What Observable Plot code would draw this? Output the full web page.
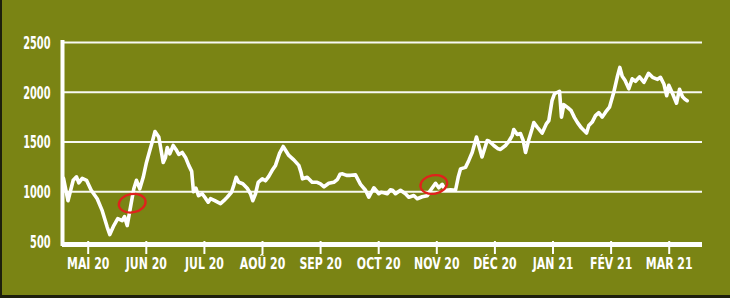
<!DOCTYPE html>
<html>
<head>
<meta charset="utf-8">
<script src="https://cdn.jsdelivr.net/npm/d3@7"></script>
<script src="https://cdn.jsdelivr.net/npm/@observablehq/plot@0.6"></script>
<style>
  html, body { margin: 0; padding: 0; background: #1d1f0c; }
  #chart { position: absolute; left: 2px; top: 0; width: 728px; height: 295px; }
  #chart svg { display: block; }
</style>
</head>
<body>
<div id="chart"></div>
<script>
// time in months since 1 Apr 2020 (1 = MAI 20, 11 = MAR 21)
const months = [0.575,0.652,0.742,0.799,0.838,0.897,0.971,1.052,1.155,1.241,1.327,1.372,1.441,1.509,1.585,1.625,1.671,1.728,1.785,1.831,1.888,1.947,2.003,2.060,2.102,2.150,2.215,2.291,2.330,2.360,2.404,2.463,2.511,2.559,2.618,2.675,2.731,2.781,2.812,2.855,2.898,2.962,3.007,3.065,3.105,3.179,3.277,3.334,3.392,3.466,3.506,3.547,3.592,3.661,3.737,3.793,3.833,3.880,3.926,3.995,4.052,4.108,4.167,4.224,4.293,4.356,4.453,4.539,4.625,4.663,4.688,4.769,4.855,4.941,4.998,5.059,5.141,5.227,5.291,5.334,5.377,5.446,5.515,5.601,5.687,5.773,5.830,5.916,6.002,6.040,6.088,6.146,6.203,6.238,6.289,6.375,6.461,6.518,6.604,6.663,6.749,6.835,6.892,6.978,7.034,7.093,7.150,7.236,7.322,7.368,7.408,7.494,7.551,7.609,7.683,7.778,7.867,7.907,7.981,8.045,8.096,8.182,8.239,8.298,8.325,8.384,8.441,8.487,8.527,8.584,8.642,8.670,8.728,8.814,8.888,8.928,8.983,9.026,9.112,9.146,9.186,9.255,9.313,9.370,9.422,9.491,9.577,9.616,9.675,9.731,9.788,9.847,9.904,9.972,10.046,10.105,10.150,10.191,10.239,10.305,10.363,10.420,10.489,10.566,10.644,10.713,10.799,10.850,10.910,10.957,10.993,11.048,11.126,11.177,11.229,11.272,11.310];
const price = [1135,910,1115,1150,1090,1135,1115,1015,930,810,645,570,660,730,710,750,660,845,1030,1115,1030,1145,1295,1415,1500,1605,1550,1295,1345,1445,1380,1465,1425,1375,1395,1345,1265,1205,1000,1035,960,980,945,895,930,910,880,910,945,995,1065,1145,1095,1080,1035,980,910,980,1095,1130,1110,1155,1215,1265,1385,1455,1365,1320,1265,1195,1130,1145,1095,1095,1080,1050,1085,1095,1125,1175,1180,1165,1165,1170,1075,1015,945,1040,980,995,990,980,1020,1015,980,1015,980,945,962,930,950,960,1015,1085,1040,1075,1015,1020,1015,1145,1230,1245,1315,1395,1550,1350,1515,1505,1465,1435,1425,1465,1505,1565,1625,1575,1585,1515,1395,1525,1635,1695,1650,1590,1685,1715,1915,1985,2010,1750,1875,1845,1815,1745,1695,1640,1590,1665,1700,1765,1795,1750,1800,1850,2000,2150,2250,2160,2120,2035,2135,2110,2155,2100,2190,2150,2130,2150,2080,1965,2070,2000,1890,2030,1955,1930,1915];

const tickMonths = [1,2,3,4,5,6,7,8,9,10,11];
const tickLabels = ["MAI 20","JUN 20","JUL 20","AOÛ 20","SEP 20","OCT 20","NOV 20","DÉC 20","JAN 21","FÉV 21","MAR 21"];
const yTicks = [500,1000,1500,2000,2500];
const gridValues = [1000,1500,2000,2500];

// hand-drawn red circles (annotations)
const circleMonths = [1.757, 6.948];
const circlePrice = [885, 1073];

const xStart = 0.5577, xEnd = 11.573;

const data = months.map((m, i) => ({m, p: price[i]}));
const circles = circleMonths.map((m, i) => ({m, p: circlePrice[i]}));

const ellipse = {
  draw(ctx, size) {
    const r = Math.sqrt(size / Math.PI);
    const rx = r * 1.35, ry = r * 0.92, a = -0.18;
    const k = 0.5523;
    const ca = Math.cos(a), sa = Math.sin(a);
    const P = (x, y) => [x * ca - y * sa, x * sa + y * ca];
    let p = P(rx, 0); ctx.moveTo(p[0], p[1]);
    const segs = [
      [[rx, ry*k],[rx*k, ry],[0, ry]],
      [[-rx*k, ry],[-rx, ry*k],[-rx, 0]],
      [[-rx, -ry*k],[-rx*k, -ry],[0, -ry]],
      [[rx*k, -ry],[rx, -ry*k],[rx, 0]]
    ];
    for (const s of segs) {
      const a1 = P(...s[0]), a2 = P(...s[1]), a3 = P(...s[2]);
      ctx.bezierCurveTo(a1[0], a1[1], a2[0], a2[1], a3[0], a3[1]);
    }
    ctx.closePath();
  }
};

const FONT = "'Liberation Sans Narrow', 'Arial Narrow', 'DejaVu Sans Condensed', sans-serif";

const chart = Plot.plot({
  width: 728,
  height: 295,
  marginLeft: 60,
  marginRight: 28,
  marginTop: 42,
  marginBottom: 54,
  x: {domain: [xStart, xEnd], axis: null},
  y: {domain: [500, 2500], axis: null},
  style: {background: "#7a8414", color: "white", fontFamily: FONT, overflow: "visible"},
  marks: [
    Plot.ruleY(gridValues, {stroke: "white", strokeWidth: 2, strokeOpacity: 0.95}),
    Plot.ruleX([xStart], {stroke: "white", strokeWidth: 4, y1: 2520, y2: 450}),
    Plot.axisX(tickMonths, {
      anchor: "bottom",
      tickSize: 13,
      tickPadding: 4,
      tickFormat: d => tickLabels[d - 1],
      stroke: "white",
      strokeWidth: 2,
      fill: "white",
      fontSize: 15,
      fontWeight: "bold",
      fontFamily: FONT,
      label: null
    }),
    Plot.ruleY([500], {stroke: "white", strokeWidth: 5, dy: 3, x1: xStart, x2: xEnd}),
    Plot.text(yTicks, {
      x: xStart, y: d => d, text: d => String(d),
      dx: -12, dy: 1, textAnchor: "end", fill: "white",
      fontSize: 17, fontWeight: "bold", fontFamily: FONT
    }),
    Plot.line(data, {x: "m", y: "p", stroke: "white", strokeWidth: 3.6, strokeLinejoin: "round"}),
    Plot.dot(circles, {x: "m", y: "p", r: 10, symbol: ellipse, stroke: "#e0221c", strokeWidth: 2.3, fill: "none"})
  ]
});

document.getElementById("chart").appendChild(chart);

// condense labels horizontally (narrow font look), keeping their anchor point
function condense(sel, s) {
  d3.select(chart).selectAll(sel).each(function() {
    const t = this.getAttribute("transform") || "";
    const xa = this.getAttribute("x");
    const x = xa !== null && isFinite(+xa) ? +xa : 0;
    if (xa !== null && isFinite(+xa)) this.setAttribute("x", 0);
    this.setAttribute("transform", `${t} translate(${x},0) scale(${s},1)`);
  });
}
condense('g[aria-label="text"] text', 0.64);
condense('g[aria-label="x-axis tick label"] text', 0.81);
</script>
</body>
</html>
